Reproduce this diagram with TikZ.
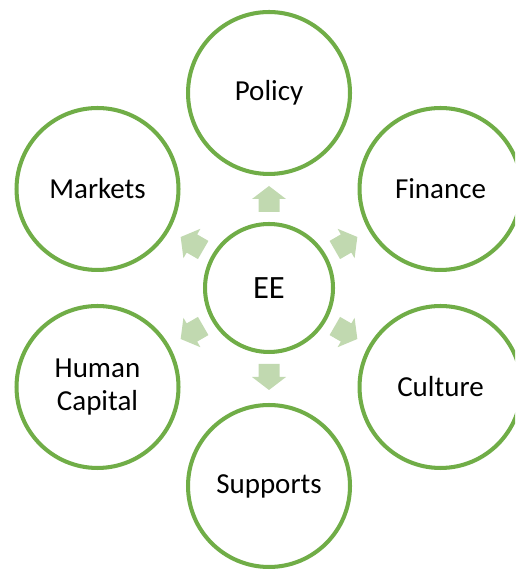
\documentclass[tikz,border=0pt]{standalone}
\usepackage{fontspec}
\setmainfont{Carlito}
\usetikzlibrary{calc}

\definecolor{ringgreen}{HTML}{70AD47}
\definecolor{arrowgreen}{HTML}{C1D9B0}

\begin{document}
\begin{tikzpicture}[
			x=0.02cm, y=0.02cm,
			ring/.style={circle, draw=ringgreen, line width=2.3pt, fill=white, minimum size=3.24cm, inner sep=0pt, align=center, font={\fontsize{16.5}{18.5}\selectfont}},
			hub/.style={ring, minimum size=2.56cm, font={\fontsize{18.5}{20}\selectfont}},
			blockarrow/.style={fill=arrowgreen, draw=none}
			]
			\clip (0,0) rectangle (515,570);
			
			\node[hub] (ee) at (269,282) {EE};
			
			\node[ring] (policy) at (269,477) {Policy};
			\node[ring] (finance) at (440.5,381) {Finance};
			\node[ring] (culture) at (440.5,183) {Culture};
			\node[ring] (supports) at (269,84) {Supports};
			\node[ring] (human) at (97.5,183) {Human\\Capital};
			\node[ring] (markets) at (97.5,381) {Markets};
			
			% outward block arrows around the hub
			\foreach \a in {90,30,-30,-90,-150,150} {
				\fill[blockarrow, rotate around={\a:(ee.center)}]
					($(ee.center)+(76,-10.5)$) -- ++(13,0) -- ++(0,-6.5) -- ++(13,17) -- ++(-13,17) -- ++(0,-6.5) -- ++(-13,0) -- cycle;
			}
		\end{tikzpicture}
\end{document}
